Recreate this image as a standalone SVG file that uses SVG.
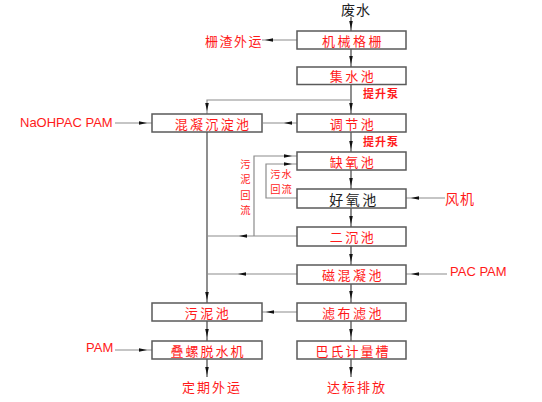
<svg xmlns="http://www.w3.org/2000/svg" width="542" height="402" viewBox="0 0 542 402">
<style>
.bg{fill:#ffffff}
.box{fill:#ffffff;stroke:#5a5a5a;stroke-width:1.5}
.v{stroke:#444;stroke-width:1.2;fill:none}
.h{stroke:#8c8c8c;stroke-width:1.2;fill:none}
.t{font-family:"Noto Sans CJK SC","Liberation Sans",sans-serif;font-size:13px;fill:#ff1a1a;text-anchor:middle;dominant-baseline:central;letter-spacing:2.5px}
.k{fill:#222}
.s{font-size:11px;font-weight:bold;letter-spacing:1px}
.sm{font-size:10.3px;letter-spacing:0}
.en{font-family:"Liberation Sans",Arial,sans-serif;font-size:13px;fill:#ff1a1a;dominant-baseline:central}
.ah{fill:#111}
</style>
<defs>
<path id="a" class="ah" d="M0,0 L-8,-1.8 L-8,1.8 Z"/>
</defs>
<rect class="bg" x="0" y="0" width="542" height="402"/>
<g id="connectors">
<line class="v" x1="351" y1="17" x2="351" y2="31"/>
<line class="h" x1="262" y1="40" x2="297" y2="40"/>
<line class="v" x1="351" y1="49" x2="351" y2="67"/>
<line class="v" x1="351" y1="84" x2="351" y2="114"/>
<polyline class="h" points="351,100 207,100 207,114"/>
<line class="h" x1="263" y1="123" x2="297" y2="123"/>
<line class="h" x1="115" y1="123" x2="152" y2="123"/>
<line class="v" x1="351" y1="132" x2="351" y2="152"/>
<line class="v" x1="351" y1="170" x2="351" y2="189"/>
<line class="v" x1="351" y1="208" x2="351" y2="227"/>
<line class="v" x1="351" y1="246" x2="351" y2="265"/>
<line class="v" x1="351" y1="284" x2="351" y2="303"/>
<line class="v" x1="351" y1="321" x2="351" y2="341"/>
<line class="v" x1="351" y1="359" x2="351" y2="377"/>
<line class="v" x1="207" y1="132" x2="207" y2="303"/>
<line class="h" x1="207" y1="236" x2="297" y2="236"/>
<polyline class="h" points="254,236 254,156 297,156"/>
<polyline class="h" points="297,198 266,198 266,164 297,164"/>
<line class="h" x1="406" y1="198" x2="445" y2="198"/>
<line class="h" x1="207" y1="274" x2="297" y2="274"/>
<line class="h" x1="406" y1="274" x2="447" y2="274"/>
<line class="h" x1="262" y1="312" x2="297" y2="312"/>
<line class="v" x1="207" y1="321" x2="207" y2="341"/>
<line class="v" x1="207" y1="359" x2="207" y2="377"/>
<line class="h" x1="115" y1="350" x2="152" y2="350"/>
<use href="#a" transform="translate(351,29) rotate(90)"/>
<use href="#a" transform="translate(265,40) rotate(180)"/>
<use href="#a" transform="translate(351,64) rotate(90)"/>
<use href="#a" transform="translate(351,111) rotate(90)"/>
<use href="#a" transform="translate(207,111) rotate(90)"/>
<use href="#a" transform="translate(284,123) rotate(180)"/>
<use href="#a" transform="translate(147,123)"/>
<use href="#a" transform="translate(351,149) rotate(90)"/>
<use href="#a" transform="translate(351,186) rotate(90)"/>
<use href="#a" transform="translate(351,224) rotate(90)"/>
<use href="#a" transform="translate(351,262) rotate(90)"/>
<use href="#a" transform="translate(351,299) rotate(90)"/>
<use href="#a" transform="translate(351,337) rotate(90)"/>
<use href="#a" transform="translate(351,375) rotate(90)"/>
<use href="#a" transform="translate(207,300) rotate(90)"/>
<use href="#a" transform="translate(207,337) rotate(90)"/>
<use href="#a" transform="translate(207,375) rotate(90)"/>
<use href="#a" transform="translate(292,156)"/>
<use href="#a" transform="translate(292,164)"/>
<use href="#a" transform="translate(239,236) rotate(180)"/>
<use href="#a" transform="translate(411,198) rotate(180)"/>
<use href="#a" transform="translate(411,274) rotate(180)"/>
<use href="#a" transform="translate(238,274) rotate(180)"/>
<use href="#a" transform="translate(266,312) rotate(180)"/>
<use href="#a" transform="translate(147,350)"/>
</g>
<g id="n-feishui"><text class="t k" x="356" y="9" style="font-size:14px;letter-spacing:1px">废水</text></g>
<g id="n-jixie"><rect class="box" x="297" y="31" width="109" height="18"/><text class="t" x="353" y="40">机械格栅</text></g>
<g id="n-zhazha"><text class="t" x="234" y="40" style="letter-spacing:1.5px">栅渣外运</text></g>
<g id="n-jishui"><rect class="box" x="297" y="67" width="109" height="17.5"/><text class="t" x="353" y="75.5">集水池</text></g>
<g id="n-pump1"><text class="t s" x="381" y="93">提升泵</text></g>
<g id="n-tiaojie"><rect class="box" x="297" y="114" width="109" height="18"/><text class="t" x="353" y="123">调节池</text></g>
<g id="n-pump2"><text class="t s" x="381" y="141">提升泵</text></g>
<g id="n-hunning"><rect class="box" x="152" y="114" width="110" height="18"/><text class="t" x="213" y="123" style="letter-spacing:2.3px">混凝沉淀池</text></g>
<g id="n-naoh"><text class="en" x="20" y="122">NaOHPAC PAM</text></g>
<g id="n-queyang"><rect class="box" x="297" y="152" width="109" height="18"/><text class="t" x="353" y="161">缺氧池</text></g>
<g id="n-haoyang"><rect class="box" x="297" y="189" width="109" height="19"/><text class="t k" x="354" y="198.5" style="font-size:14px">好氧池</text></g>
<g id="n-fengji"><text class="t" x="460" y="198" style="font-size:14px;letter-spacing:1px">风机</text></g>
<g id="n-wuni-huiliu"><text class="t sm" x="245.5" y="163.5">污</text><text class="t sm" x="245.5" y="178.8">泥</text><text class="t sm" x="245.5" y="194.1">回</text><text class="t sm" x="245.5" y="209.4">流</text></g>
<g id="n-wushui-huiliu"><text class="t sm" x="281.5" y="173" style="letter-spacing:1px">污水</text><text class="t sm" x="281.5" y="188.3" style="letter-spacing:1px">回流</text></g>
<g id="n-erchen"><rect class="box" x="297" y="227" width="109" height="19"/><text class="t" x="353" y="236.5">二沉池</text></g>
<g id="n-cihun"><rect class="box" x="297" y="265" width="109" height="19"/><text class="t" x="353" y="274.5">磁混凝池</text></g>
<g id="n-pacpam"><text class="en" x="450" y="271">PAC PAM</text></g>
<g id="n-lvbu"><rect class="box" x="297" y="303" width="109" height="18"/><text class="t" x="353" y="312">滤布滤池</text></g>
<g id="n-wunichi"><rect class="box" x="152" y="303" width="110" height="18"/><text class="t" x="208" y="312">污泥池</text></g>
<g id="n-bashi"><rect class="box" x="297" y="341" width="109" height="18"/><text class="t" x="353" y="350" style="letter-spacing:2px">巴氏计量槽</text></g>
<g id="n-dieluo"><rect class="box" x="152" y="341" width="110" height="18"/><text class="t" x="208" y="350" style="letter-spacing:2px">叠螺脱水机</text></g>
<g id="n-pam"><text class="en" x="86" y="347">PAM</text></g>
<g id="n-dingqi"><text class="t" x="212" y="386" style="letter-spacing:2px">定期外运</text></g>
<g id="n-dabiao"><text class="t" x="357" y="386" style="letter-spacing:2px">达标排放</text></g>
</svg>
